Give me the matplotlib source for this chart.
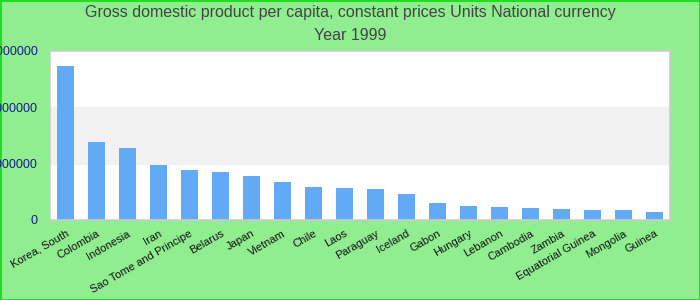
import matplotlib
matplotlib.use("Agg")
import matplotlib.pyplot as plt
import numpy as np

countries = ["Korea, South", "Colombia", "Indonesia", "Iran", "Sao Tome and Principe",
             "Belarus", "Japan", "Vietnam", "Chile", "Laos", "Paraguay", "Iceland",
             "Gabon", "Hungary", "Lebanon", "Cambodia", "Zambia", "Equatorial Guinea",
             "Mongolia", "Guinea"]
gdp = [13630000, 6900000, 6370000, 4870000, 4420000, 4250000, 3890000, 3360000,
       2920000, 2830000, 2740000, 2300000, 1500000, 1240000, 1150000, 1060000,
       970000, 880000, 880000, 710000]
yticks = [0, 5000000, 10000000, 15000000]

plt.rcParams['font.family'] = ['Liberation Sans', 'DejaVu Sans']

fig = plt.figure(figsize=(7, 3), dpi=100)
fig.patch.set_facecolor('#90ee90')
fig.patch.set_edgecolor('#22dd22')
fig.patch.set_linewidth(2)

ax = fig.add_axes([50 / 700, 80 / 300, 620 / 700, 169 / 300])
ax.set_facecolor('white')

# alternating bands between ticks
for i in range(len(yticks) - 1):
    if i % 2 == 1:
        ax.axhspan(yticks[i], yticks[i + 1], color='#f2f2f2', zorder=0)

x = np.arange(len(countries))
ax.bar(x, gdp, width=0.55, color='#62aaf5', zorder=2)

ax.set_xlim(-0.5, len(countries) - 0.5)
ax.set_ylim(0, yticks[-1])
ax.set_yticks(yticks)
ax.set_yticklabels([str(v) for v in yticks], color='#1a1a8c', fontsize=9)
ax.set_xticks(x)
ax.set_xticklabels(countries, rotation=30, ha='right', rotation_mode='anchor',
                   fontsize=8, color='#111111')
ax.tick_params(axis='y', length=0, pad=9)
ax.tick_params(axis='x', length=0, pad=6)
for s in ax.spines.values():
    s.set_color('#cccccc')
    s.set_linewidth(1.2)

fig.text(0.5, 1 - 13 / 300, "Gross domestic product per capita, constant prices Units National currency",
         ha='center', va='center', fontsize=11.5, color='#444444')
fig.text(0.5, 1 - 36 / 300, "Year 1999", ha='center', va='center', fontsize=11.5, color='#444444')

fig.savefig('out.png', dpi=100, facecolor=fig.get_facecolor(), edgecolor=fig.get_edgecolor())
